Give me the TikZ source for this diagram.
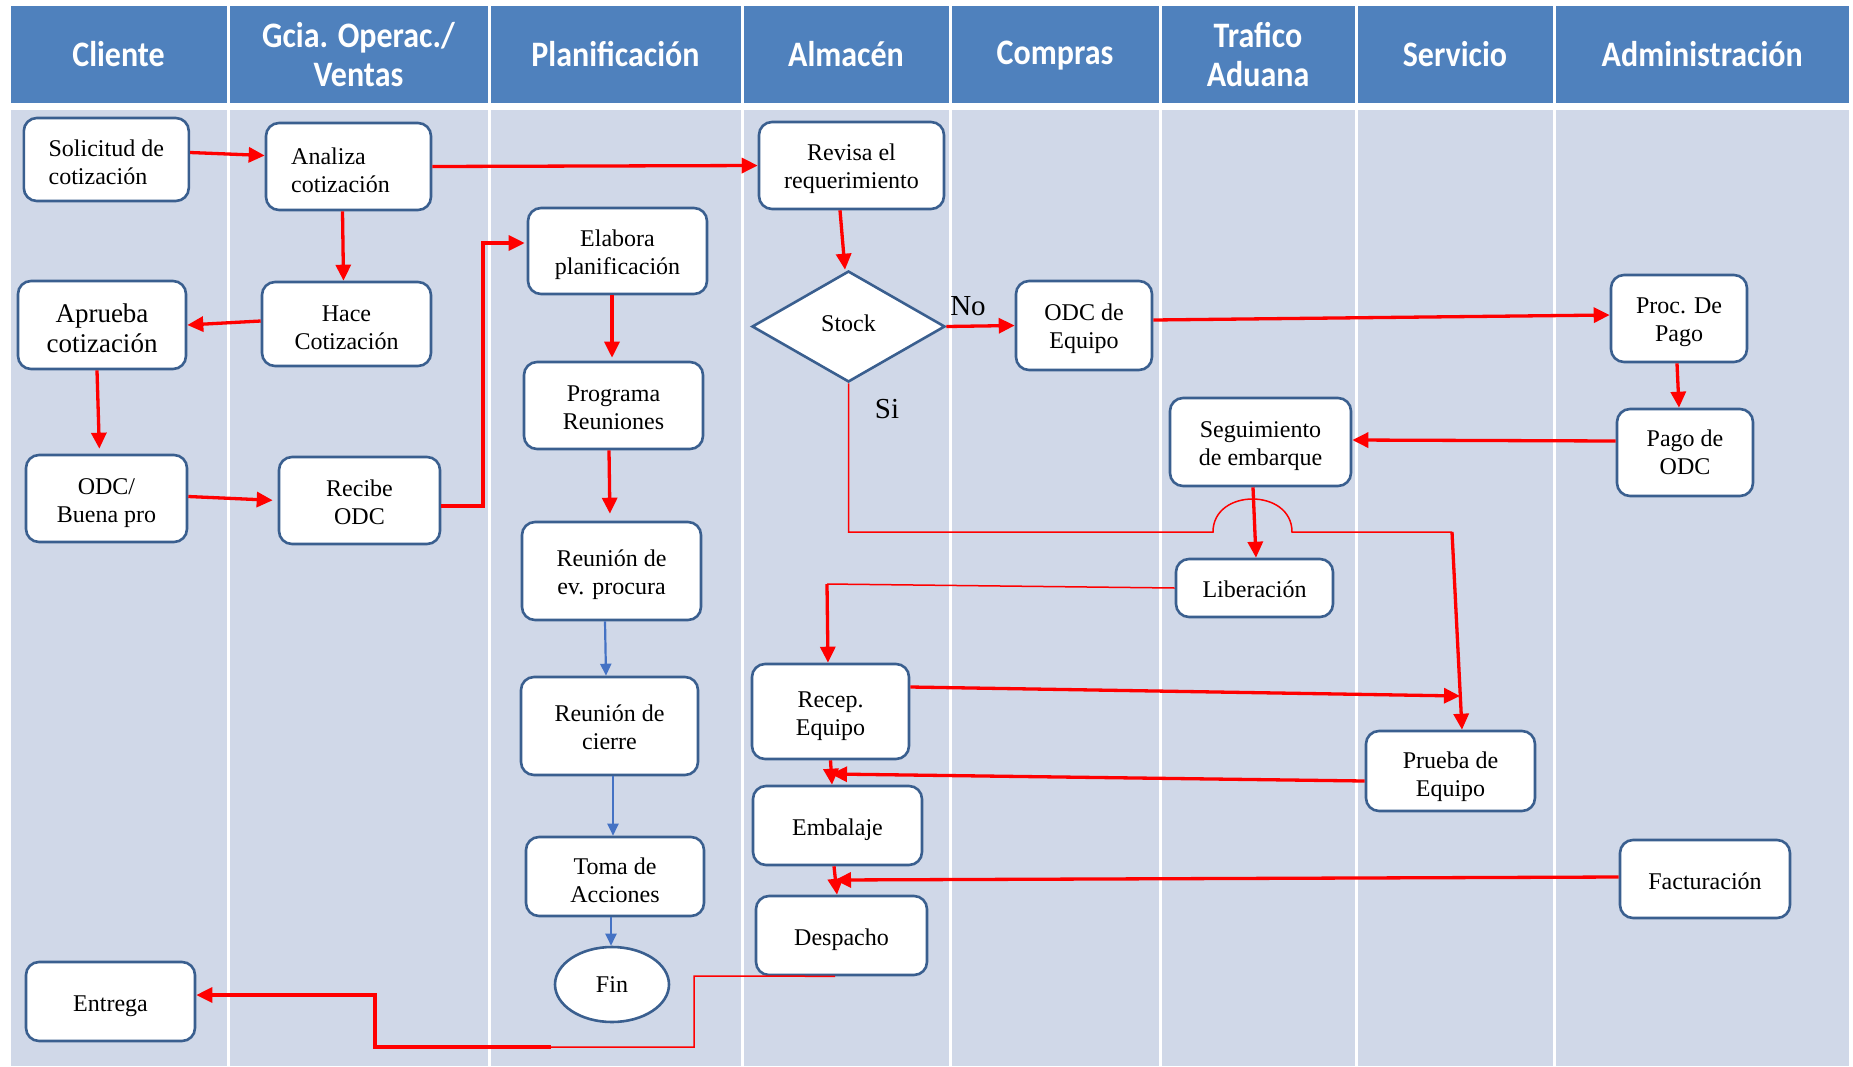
\documentclass[tikz,border=0pt]{standalone}
\usepackage{fontspec}
\usepackage{graphicx}
\setmainfont{Liberation Serif}
\newfontfamily\hdrfont{Carlito}
\usetikzlibrary{arrows.meta,shapes.geometric}
\definecolor{hdrblue}{HTML}{4F81BD}
\definecolor{lane}{HTML}{D0D8E8}
\definecolor{boxblue}{HTML}{3A5F8F}
\definecolor{flowblue}{HTML}{4472C4}
\definecolor{flowred}{HTML}{FF0000}
\newcommand{\tp}[1]{\rule{0pt}{#1}}
\begin{document}
\begin{tikzpicture}[x=1pt,y=-1pt,
  hdr/.style={fill=hdrblue, text=white, font=\hdrfont\bfseries\fontsize{32}{35}\selectfont, align=center, inner sep=0pt, minimum height=97pt},
  hdrtxt/.style={text=white, font=\hdrfont\bfseries\fontsize{32}{35}\selectfont, align=center, inner sep=0pt},
  pbox/.style={draw=boxblue, line width=2.6pt, fill=white, rounded corners=13pt, align=center, inner sep=0pt, font=\fontsize{24}{28}\selectfont},
  dia/.style={draw=boxblue, line width=2.6pt, fill=white, diamond, inner sep=0pt, font=\fontsize{24}{28}\selectfont},
  ell/.style={draw=boxblue, line width=2.6pt, fill=white, ellipse, inner sep=0pt, font=\fontsize{24}{28}\selectfont},
  ra/.style={draw=flowred, line width=3.3pt, -{Triangle[length=16pt,width=15pt]}},
  rthin/.style={draw=flowred, line width=1.5pt},
  ba/.style={draw=flowblue, line width=2.2pt, -{Triangle[length=12pt,width=11pt]}},
  lbl/.style={font=\fontsize{29}{32}\selectfont, inner sep=0pt}
]
\useasboundingbox (0,0) rectangle (1853,1066);
\fill[white] (0,0) rectangle (1853,1066);
% lanes
\foreach \a/\b in {10.6/226.5, 229.5/487.5, 490.5/740.5, 743.5/948.5, 951.5/1158.5, 1161.5/1354.5, 1357.5/1552.5, 1555.5/1849}
  {\fill[lane] (\a,110) rectangle (\b,1066);}
% headers
\node[hdr, minimum width=215.9pt] (h1) at (118.55,54.5) {\scalebox{1}[1.12]{Cliente}};
\node[hdr, minimum width=258pt] (h2) at (358.5,54.5) {};
\node[hdrtxt] (h2t) at (358.5,59) {\scalebox{1}[1.12]{\begin{tabular}{@{}c@{}}Gcia. Operac./\\Ventas\end{tabular}}};
\node[hdr, minimum width=250pt] (h3) at (615.5,54.5) {\scalebox{1}[1.12]{Planificación}};
\node[hdr, minimum width=205pt] (h4) at (846,54.5) {\scalebox{1}[1.12]{Almacén}};
\node[hdr, minimum width=207pt] (h5) at (1055,54.5) {};
\node[hdrtxt] (h5t) at (1055,55.5) {\scalebox{1}[1.12]{Compras}};
\node[hdr, minimum width=193pt] (h6) at (1258,54.5) {};
\node[hdrtxt] (h6t) at (1258,59) {\scalebox{1}[1.12]{\begin{tabular}{@{}c@{}}Trafico\\Aduana\end{tabular}}};
\node[hdr, minimum width=195pt] (h7) at (1455,54.5) {\scalebox{1}[1.12]{Servicio}};
\node[hdr, minimum width=293.5pt] (h8) at (1702.25,54.5) {\scalebox{1}[1.12]{Administración}};
% nodes
\node[pbox, align=left, minimum width=165pt, minimum height=83pt] (sol) at (106.3,159.5) {\tp{21.3pt}Solicitud de\\cotización};
\node[pbox, align=left, minimum width=165pt, minimum height=87pt] (ana) at (348.5,166.5) {\tp{23.5pt}Analiza\\cotización\hspace*{16pt}};
\node[pbox, minimum width=169pt, minimum height=84pt] (hace) at (346.5,324) {\tp{22.5pt}Hace\\Cotización};
\node[pbox, minimum width=168pt, minimum height=88pt, font=\fontsize{27}{30}\selectfont] (apr) at (102,325) {\tp{24.5pt}Aprueba\\cotización};
\node[pbox, minimum width=161pt, minimum height=87pt] (odcb) at (106.5,498.5) {\tp{26pt}ODC/\\Buena pro};
\node[pbox, minimum width=161pt, minimum height=87pt] (rec) at (359.5,500.5) {\tp{20pt}Recibe\\ODC};
\node[pbox, minimum width=179pt, minimum height=86pt] (ela) at (617.5,251) {\tp{23.5pt}Elabora\\planificación};
\node[pbox, minimum width=179pt, minimum height=87pt] (prog) at (613.5,405.5) {\tp{20pt}Programa\\Reuniones};
\node[pbox, minimum width=179pt, minimum height=98pt] (rev) at (611.5,571) {\tp{24.5pt}Reunión de\\ev. procura};
\node[pbox, minimum width=177pt, minimum height=98pt] (rcie) at (609.5,726) {\tp{19pt}Reunión de\\cierre};
\node[pbox, minimum width=178pt, minimum height=79pt] (toma) at (615,876.5) {\tp{24.5pt}Toma de\\Acciones};
\node[ell, minimum width=114pt, minimum height=75pt] (fin) at (612,984.5) {Fin};
\node[pbox, minimum width=169pt, minimum height=79pt] (ent) at (110.5,1001.5) {\tp{26pt}Entrega};
\node[pbox, minimum width=185pt, minimum height=87pt] (revisa) at (851.5,165.5) {\tp{24pt}Revisa el\\requerimiento};
\node[dia, minimum width=193pt, minimum height=111pt, aspect=1.74] (stock) at (848.5,326.5) {Stock\rule[-7pt]{0pt}{1pt}};
\node[pbox, minimum width=136pt, minimum height=89pt] (odce) at (1084,325.5) {\tp{23.5pt}ODC de\\Equipo};
\node[pbox, minimum width=136pt, minimum height=87pt] (proc) at (1679,318.5) {\tp{23.5pt}Proc. De\\Pago};
\node[pbox, minimum width=136pt, minimum height=87pt] (pago) at (1685,452.5) {Pago de\\ODC};
\node[pbox, minimum width=181pt, minimum height=88pt] (seg) at (1260.5,442) {\tp{23.5pt}Seguimiento\\de embarque};
\node[pbox, minimum width=157pt, minimum height=58pt] (lib) at (1254.5,588) {\tp{19pt}Liberación};
\node[pbox, minimum width=157pt, minimum height=95pt] (recep) at (830.5,711.5) {\tp{26pt}Recep.\\Equipo};
\node[pbox, minimum width=169pt, minimum height=79pt] (emb) at (837.5,825.5) {\tp{26pt}Embalaje};
\node[pbox, minimum width=171pt, minimum height=79pt] (desp) at (841.5,935.5) {\tp{26pt}Despacho};
\node[pbox, minimum width=169pt, minimum height=80pt] (prueba) at (1450.5,771) {\tp{28.5pt}Prueba de\\Equipo};
\node[pbox, minimum width=170pt, minimum height=78pt] (fact) at (1705,879) {\tp{21pt}Facturación};
% labels
\node[lbl] (no) at (968,306) {No};
\node[lbl] (si) at (887,409) {Si};
% junction coordinates
\coordinate (k1) at (483,506);
\coordinate (si1) at (848.5,532);
\coordinate (hopL) at (1213,532);
\coordinate (hopR) at (1292,532);
\coordinate (si2) at (1452,532);
\coordinate (lb1) at (827,584);
\coordinate (pj) at (1460,696);
\coordinate (ej) at (831,774);
\coordinate (dj) at (835,880);
\coordinate (d1) at (694,976);
\coordinate (d2) at (694,1047);
\coordinate (d3) at (551,1047);
\coordinate (d4) at (375,1047);
% connectors
\draw[ra] ([yshift=7pt]sol.east) -- ([yshift=11pt]ana.west);
\draw[ra] (ana.east) -- (revisa.west);
\draw[ra] ([xshift=-6pt]ana.south) -- ([xshift=-3pt]hace.north);
\draw[ra] ([yshift=3pt]hace.west) -- (apr.east);
\draw[ra, shorten >=5pt] ([xshift=-5pt]apr.south) -- ([xshift=-7pt]odcb.north);
\draw[ra, shorten >=5pt] ([yshift=2pt]odcb.east) -- (rec.west);
\draw[ra, shorten >=2pt] ([yshift=-5.5pt]rec.east) -- (k1) |- ([yshift=8pt]ela.west);
\draw[ra, shorten >=3pt] ([xshift=-5.5pt]ela.south) -- ([xshift=-1.5pt]prog.north);
\draw[ra, shorten >=7pt] ([xshift=-4.5pt]prog.south) -- ([xshift=-1.5pt]rev.north);
\draw[ba] ([xshift=-6.5pt]rev.south) -- ([xshift=-3.5pt]rcie.north);
\draw[ba] ([xshift=3.5pt]rcie.south) -- ([xshift=-2pt]toma.north);
\draw[ba] ([xshift=-4pt]toma.south) -- ([xshift=-1pt]fin.north);
\draw[ra] ([xshift=-11.5pt]revisa.south) -- ([xshift=-3.5pt]stock.north);
\draw[ra] (stock.east) -- (odce.west);
\draw[ra] ([yshift=5.5pt]odce.east) -- ([yshift=3.5pt]proc.west);
\draw[ra] ([xshift=-2pt]proc.south) -- ([xshift=-6pt]pago.north);
\draw[ra] ([yshift=11.5pt]pago.west) -- ([yshift=2pt]seg.east);
\draw[ra] ([xshift=-7.5pt]seg.south) -- ([xshift=1.5pt]lib.north);
\draw[rthin] (stock.south) -- (si1) -- (hopL) .. controls (1213,488) and (1292,488) .. (hopR) -- (si2);
\draw[ra] (si2) -- ([xshift=11.5pt]prueba.north);
\draw[rthin] (lib.west) -- (lb1);
\draw[ra] (lb1) -- ([xshift=-2.5pt]recep.north);
\draw[ra] ([yshift=24.5pt]recep.east) -- (pj);
\draw[ra] ([yshift=-10pt]prueba.west) -- (ej);
\draw[ra] (recep.south) -- ([xshift=-5.5pt]emb.north);
\draw[ra] ([xshift=-3.5pt]emb.south) -- ([xshift=-4.5pt]desp.north);
\draw[ra] ([yshift=2pt]fact.west) -- (dj);
\draw[rthin] ([xshift=-6.5pt]desp.south) -- (d1) -- (d2) -- (d3);
\draw[ra] (d3) -- (d4) |- ([yshift=6.5pt]ent.east);
\end{tikzpicture}
\end{document}
